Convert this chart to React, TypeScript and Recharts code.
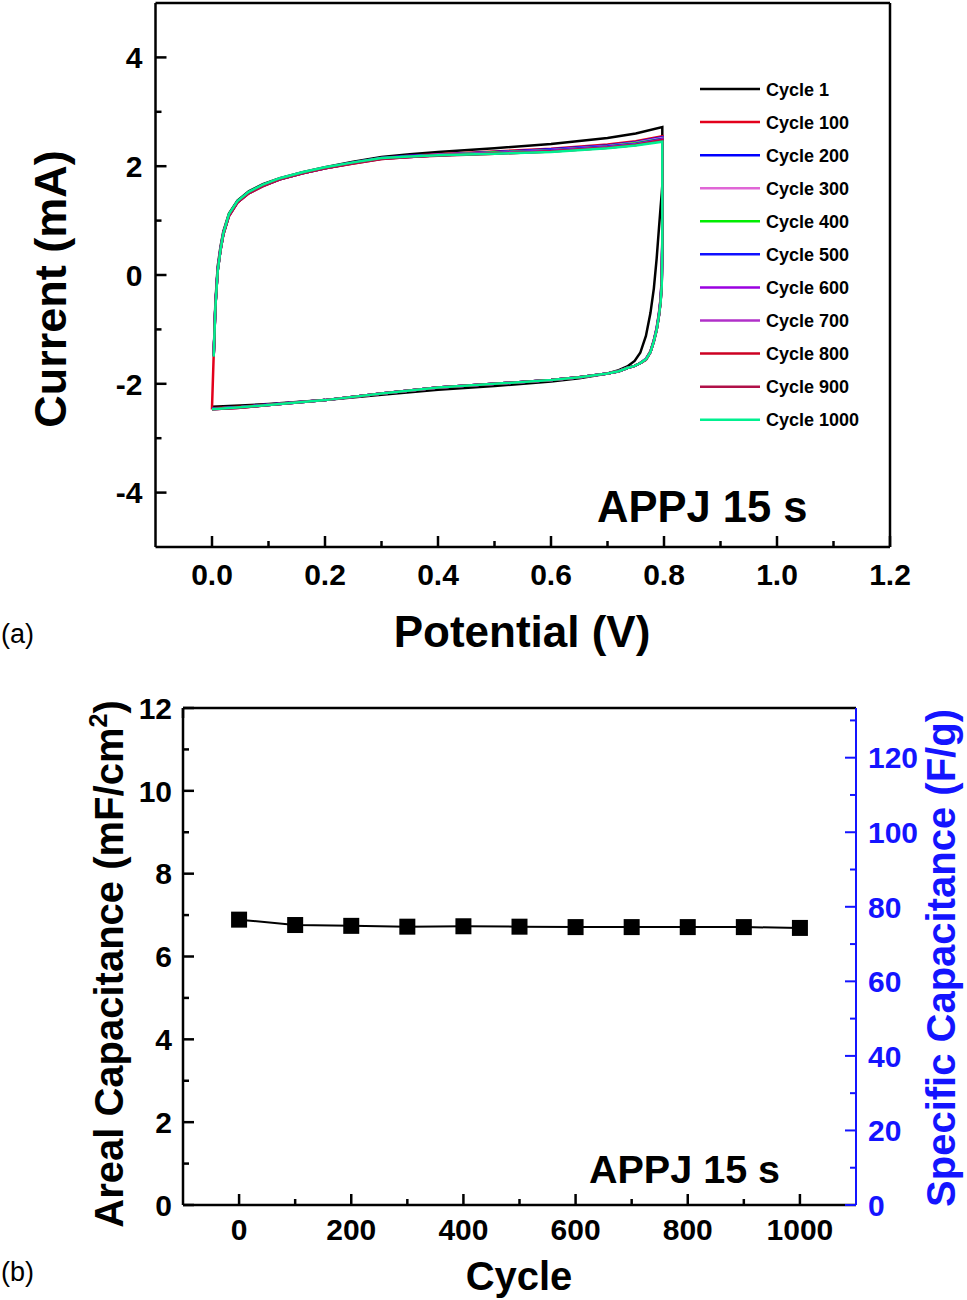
import { LineChart, Line, XAxis, YAxis } from 'recharts'

// ---- (a) cyclic voltammetry, shared potential grids (V) ----
const FWD_V = [0.003, 0.006, 0.01, 0.015, 0.02, 0.03, 0.045, 0.065, 0.09, 0.12, 0.16, 0.2, 0.25, 0.3, 0.35, 0.4, 0.5, 0.6, 0.7, 0.75, 0.797]
const REV_V = [0.797, 0.797, 0.796, 0.794, 0.791, 0.787, 0.782, 0.776, 0.768, 0.758, 0.748, 0.735, 0.72, 0.7, 0.65, 0.6, 0.5, 0.4, 0.3, 0.2, 0.1, 0.05, 0.0]

// current (mA), forward sweep
const C1_FWD = [-1.45, -0.5, 0.15, 0.52, 0.8, 1.13, 1.37, 1.54, 1.67, 1.78, 1.89, 1.98, 2.08, 2.17, 2.22, 2.26, 2.33, 2.41, 2.52, 2.6, 2.72]
const C100_FWD = [-1.47, -0.55, 0.1, 0.48, 0.77, 1.11, 1.35, 1.52, 1.65, 1.77, 1.88, 1.97, 2.07, 2.15, 2.19, 2.22, 2.27, 2.32, 2.4, 2.46, 2.55]
const C200_FWD = [-1.47, -0.56, 0.09, 0.47, 0.76, 1.1, 1.35, 1.52, 1.65, 1.77, 1.88, 1.97, 2.07, 2.15, 2.19, 2.21, 2.26, 2.31, 2.38, 2.44, 2.53]
const C300_FWD = [-1.48, -0.56, 0.09, 0.47, 0.76, 1.1, 1.34, 1.51, 1.65, 1.77, 1.88, 1.97, 2.06, 2.14, 2.18, 2.21, 2.25, 2.3, 2.37, 2.43, 2.52]
const C400_FWD = [-1.48, -0.57, 0.08, 0.46, 0.75, 1.1, 1.34, 1.51, 1.64, 1.76, 1.87, 1.96, 2.06, 2.14, 2.18, 2.2, 2.25, 2.29, 2.36, 2.42, 2.5]
const C500_FWD = [-1.48, -0.57, 0.08, 0.46, 0.75, 1.09, 1.34, 1.51, 1.64, 1.76, 1.87, 1.96, 2.06, 2.14, 2.18, 2.2, 2.24, 2.29, 2.36, 2.41, 2.5]
const C600_FWD = [-1.49, -0.58, 0.08, 0.46, 0.75, 1.09, 1.33, 1.51, 1.64, 1.76, 1.87, 1.96, 2.06, 2.14, 2.17, 2.2, 2.24, 2.28, 2.35, 2.4, 2.49]
const C700_FWD = [-1.49, -0.58, 0.07, 0.45, 0.74, 1.09, 1.33, 1.5, 1.64, 1.76, 1.87, 1.96, 2.06, 2.14, 2.17, 2.2, 2.24, 2.28, 2.35, 2.4, 2.48]
const C800_FWD = [-1.49, -0.58, 0.07, 0.45, 0.74, 1.09, 1.33, 1.5, 1.64, 1.76, 1.87, 1.96, 2.05, 2.13, 2.17, 2.2, 2.23, 2.27, 2.34, 2.39, 2.48]
const C900_FWD = [-1.5, -0.59, 0.07, 0.45, 0.74, 1.08, 1.33, 1.5, 1.63, 1.76, 1.87, 1.96, 2.05, 2.13, 2.17, 2.19, 2.23, 2.27, 2.34, 2.39, 2.47]
const C1000_FWD = [-1.5, -0.6, 0.06, 0.46, 0.76, 1.12, 1.36, 1.53, 1.66, 1.78, 1.89, 1.98, 2.07, 2.15, 2.18, 2.2, 2.23, 2.26, 2.33, 2.38, 2.45]

// current (mA), reverse sweep
const C1_REV = [2.72, 1.65, 1.5, 1.25, 0.85, 0.3, -0.25, -0.7, -1.12, -1.43, -1.58, -1.68, -1.75, -1.81, -1.9, -1.96, -2.04, -2.11, -2.2, -2.3, -2.37, -2.4, -2.42]
const C100_REV = [2.55, 0.7, -0.05, -0.42, -0.7, -0.97, -1.2, -1.4, -1.54, -1.62, -1.67, -1.71, -1.77, -1.81, -1.88, -1.93, -2.0, -2.07, -2.18, -2.3, -2.38, -2.42, -2.45]
const C200_REV = [2.53, 0.65, -0.08, -0.44, -0.72, -0.98, -1.2, -1.41, -1.54, -1.62, -1.67, -1.71, -1.77, -1.81, -1.88, -1.93, -2.0, -2.07, -2.18, -2.3, -2.38, -2.43, -2.46]
const C300_REV = [2.52, 0.62, -0.1, -0.45, -0.73, -0.99, -1.21, -1.41, -1.55, -1.62, -1.67, -1.71, -1.77, -1.81, -1.88, -1.93, -2.0, -2.07, -2.18, -2.3, -2.39, -2.43, -2.46]
const C400_REV = [2.5, 0.6, -0.12, -0.46, -0.74, -1.0, -1.21, -1.41, -1.55, -1.62, -1.67, -1.71, -1.77, -1.81, -1.88, -1.93, -2.0, -2.07, -2.18, -2.3, -2.39, -2.43, -2.46]
const C500_REV = [2.5, 0.58, -0.13, -0.47, -0.74, -1.0, -1.21, -1.42, -1.55, -1.62, -1.67, -1.71, -1.77, -1.81, -1.88, -1.93, -2.0, -2.07, -2.18, -2.3, -2.39, -2.43, -2.46]
const C600_REV = [2.49, 0.56, -0.15, -0.48, -0.75, -1.0, -1.22, -1.42, -1.55, -1.62, -1.67, -1.71, -1.77, -1.81, -1.88, -1.93, -2.0, -2.07, -2.18, -2.3, -2.39, -2.43, -2.47]
const C700_REV = [2.48, 0.55, -0.16, -0.48, -0.75, -1.01, -1.22, -1.42, -1.55, -1.62, -1.67, -1.71, -1.77, -1.81, -1.88, -1.93, -2.0, -2.07, -2.18, -2.3, -2.39, -2.44, -2.47]
const C800_REV = [2.48, 0.54, -0.17, -0.49, -0.75, -1.01, -1.22, -1.42, -1.56, -1.62, -1.67, -1.71, -1.77, -1.81, -1.88, -1.93, -2.0, -2.07, -2.18, -2.3, -2.39, -2.44, -2.47]
const C900_REV = [2.47, 0.52, -0.18, -0.5, -0.75, -1.01, -1.22, -1.42, -1.56, -1.62, -1.67, -1.71, -1.77, -1.81, -1.88, -1.93, -2.0, -2.07, -2.18, -2.3, -2.39, -2.44, -2.47]
const C1000_REV = [2.45, 0.5, -0.2, -0.5, -0.75, -1.01, -1.22, -1.42, -1.55, -1.62, -1.67, -1.71, -1.77, -1.81, -1.88, -1.93, -2.0, -2.07, -2.18, -2.3, -2.39, -2.43, -2.47]

const CYCLE_NAMES = ['Cycle 1', 'Cycle 100', 'Cycle 200', 'Cycle 300', 'Cycle 400', 'Cycle 500', 'Cycle 600', 'Cycle 700', 'Cycle 800', 'Cycle 900', 'Cycle 1000']
const CYCLE_COLORS = ['#000000', '#e3001b', '#0000ff', '#e066d6', '#00ee00', '#1010ff', '#9a00e0', '#b030c8', '#cc0022', '#b01048', '#00f090']
const FWD_SETS = [C1_FWD, C100_FWD, C200_FWD, C300_FWD, C400_FWD, C500_FWD, C600_FWD, C700_FWD, C800_FWD, C900_FWD, C1000_FWD]
const REV_SETS = [C1_REV, C100_REV, C200_REV, C300_REV, C400_REV, C500_REV, C600_REV, C700_REV, C800_REV, C900_REV, C1000_REV]

const CV_X_TICKS = [0, 0.1, 0.2, 0.3, 0.4, 0.5, 0.6, 0.7, 0.8, 0.9, 1.0, 1.1, 1.2]
const CV_Y_TICKS = [-4, -3, -2, -1, 0, 1, 2, 3, 4]

// ---- (b) capacitance retention ----
const CYCLE_NUM = [0, 100, 200, 300, 400, 500, 600, 700, 800, 900, 1000]
const AREAL_CAP = [6.89, 6.76, 6.74, 6.72, 6.73, 6.72, 6.71, 6.71, 6.71, 6.71, 6.69]
const CYC_X_TICKS = [0, 100, 200, 300, 400, 500, 600, 700, 800, 900, 1000]
const AREAL_TICKS = [0, 1, 2, 3, 4, 5, 6, 7, 8, 9, 10, 11, 12]
const SPEC_TICKS = [0, 10, 20, 30, 40, 50, 60, 70, 80, 90, 100, 110, 120, 130]

const FONT = "'Liberation Sans', Arial, Helvetica, sans-serif"
const BLUE = '#1414ff'

type Side = 'left' | 'right' | 'bottom' | 'top'

function makeTick(side: Side, isMajor: (v: number) => boolean, fmt: (v: number) => string | null, color = '#000', gap = 12) {
  return (props: any) => {
    const { x, y, payload } = props
    const v = payload.value as number
    const major = isMajor(v)
    const len = major ? 11 : 6
    const label = major ? fmt(v) : null
    let line
    let text = null
    const common = { fill: color, fontFamily: FONT, fontWeight: 700, fontSize: 30 }
    if (side === 'left') {
      line = <line x1={x} x2={x + len} y1={y} y2={y} stroke={color} strokeWidth={2.5} />
      if (label !== null) text = <text x={x - gap} y={y} dy="0.36em" textAnchor="end" {...common}>{label}</text>
    } else if (side === 'right') {
      line = <line x1={x} x2={x - len} y1={y} y2={y} stroke={color} strokeWidth={2} />
      if (label !== null) text = <text x={x + gap} y={y} dy="0.36em" textAnchor="start" {...common}>{label}</text>
    } else if (side === 'bottom') {
      line = <line x1={x} x2={x} y1={y} y2={y - len} stroke={color} strokeWidth={2.5} />
      if (label !== null) text = <text x={x} y={y + gap} textAnchor="middle" {...common}>{label}</text>
    } else {
      line = <line x1={x} x2={x} y1={y} y2={y + 10} stroke={color} strokeWidth={2.5} />
    }
    return (
      <g>
        {line}
        {text}
      </g>
    )
  }
}

const axisLine = { stroke: '#000', strokeWidth: 2.5 }

function CvChart() {
  const series = CYCLE_NAMES.map((name, k) => {
    const pts = [
      ...FWD_V.map((v, j) => ({ v, i: FWD_SETS[k][j] })),
      ...REV_V.map((v, j) => ({ v, i: REV_SETS[k][j] })),
    ]
    // the Cycle 100 trace closes the loop at 0 V
    if (k === 1) pts.push({ v: FWD_V[0], i: FWD_SETS[k][0] })
    return { name, color: CYCLE_COLORS[k], pts }
  })
  return (
    <LineChart width={967} height={600} margin={{ top: 0, right: 0, bottom: 0, left: 0 }}>
      <XAxis
        dataKey="v"
        type="number"
        domain={[-0.1, 1.2]}
        ticks={CV_X_TICKS}
        interval={0}
        height={53}
        axisLine={axisLine}
        tickLine={false}
        tickSize={0}
        tickMargin={0}
        tick={makeTick('bottom', (v) => Math.round(v * 10) % 2 === 0, (v) => v.toFixed(1), '#000', 38)}
      />
      <XAxis xAxisId="top" orientation="top" type="number" domain={[-0.1, 1.2]} height={3} axisLine={axisLine} tick={false} tickLine={false} />
      <YAxis
        type="number"
        domain={[-5, 5]}
        ticks={CV_Y_TICKS}
        interval={0}
        width={155.5}
        axisLine={axisLine}
        tickLine={false}
        tickSize={0}
        tickMargin={0}
        tick={makeTick('left', (v) => v % 2 === 0, (v) => String(v), '#000', 13)}
      />
      <YAxis yAxisId="r" orientation="right" type="number" domain={[-5, 5]} width={77} axisLine={axisLine} tick={false} tickLine={false} />
      {series.map((s) => (
        <Line
          key={s.name}
          name={s.name}
          data={s.pts}
          dataKey="i"
          type="linear"
          stroke={s.color}
          strokeWidth={2.5}
          dot={false}
          isAnimationActive={false}
        />
      ))}
    </LineChart>
  )
}

function CapChart() {
  const data = CYCLE_NUM.map((c, j) => ({ c, a: AREAL_CAP[j] }))
  return (
    <LineChart width={967} height={600} data={data} margin={{ top: 0, right: 0, bottom: 0, left: 0 }}>
      <XAxis
        dataKey="c"
        type="number"
        domain={[-100, 1100]}
        ticks={CYC_X_TICKS}
        interval={0}
        height={55}
        axisLine={axisLine}
        tickLine={false}
        tickSize={0}
        tickMargin={0}
        tick={makeTick('bottom', (v) => v % 200 === 0, (v) => String(v), '#000', 35)}
      />
      <XAxis
        xAxisId="top"
        orientation="top"
        type="number"
        domain={[-100, 1100]}
        ticks={CYC_X_TICKS}
        interval={0}
        height={48}
        axisLine={axisLine}
        tickLine={false}
        tickSize={0}
        tickMargin={0}
        tick={makeTick('top', () => false, () => null)}
      />
      <YAxis
        type="number"
        domain={[0, 12]}
        ticks={AREAL_TICKS}
        interval={0}
        width={183}
        axisLine={axisLine}
        tickLine={false}
        tickSize={0}
        tickMargin={0}
        tick={makeTick('left', (v) => v % 2 === 0, (v) => String(v), '#000', 11)}
      />
      <YAxis
        yAxisId="spec"
        orientation="right"
        type="number"
        domain={[0, 133.33]}
        allowDataOverflow
        ticks={SPEC_TICKS}
        interval={0}
        width={111}
        axisLine={{ stroke: BLUE, strokeWidth: 2 }}
        tickLine={false}
        tickSize={0}
        tickMargin={0}
        tick={makeTick('right', (v) => v % 20 === 0, (v) => String(v), BLUE, 12)}
      />
      <Line
        dataKey="a"
        type="linear"
        stroke="#000"
        strokeWidth={2}
        isAnimationActive={false}
        dot={(p: any) => <rect key={`sq${p.index}`} x={p.cx - 8} y={p.cy - 8} width={16} height={16} fill="#000" />}
      />
    </LineChart>
  )
}

function Overlay() {
  const t = { fontFamily: FONT, fontWeight: 700, fill: '#000' }
  return (
    <svg width={967} height={1300} style={{ position: 'absolute', left: 0, top: 0, pointerEvents: 'none' }}>
      {/* legend (a) */}
      {CYCLE_NAMES.map((name, k) => {
        const y = 89 + k * 33.07
        return (
          <g key={name}>
            <line x1={700} x2={760} y1={y} y2={y} stroke={CYCLE_COLORS[k]} strokeWidth={2.5} />
            <text x={766} y={y + 6.5} fontSize={18} {...t}>{name}</text>
          </g>
        )
      })}
      <text x={597} y={522} fontSize={43.5} {...t}>APPJ 15 s</text>
      <text x={522} y={647} fontSize={44} textAnchor="middle" {...t}>Potential (V)</text>
      <text transform="translate(66,289) rotate(-90)" fontSize={45} textAnchor="middle" {...t}>Current (mA)</text>
      <text x={1} y={643} fontSize={27} fontFamily={FONT} fill="#000">(a)</text>

      {/* panel (b) */}
      <text x={589} y={1183} fontSize={39.5} {...t}>APPJ 15 s</text>
      <text x={519} y={1290} fontSize={40} textAnchor="middle" {...t}>Cycle</text>
      <text transform="translate(123,964) rotate(-90)" fontSize={40} textAnchor="middle" {...t}>
        Areal Capacitance (mF/cm
        <tspan dy={-16} fontSize={25}>2</tspan>
        <tspan dy={16}>)</tspan>
      </text>
      <text transform="translate(955,958) rotate(-90)" fontSize={40} textAnchor="middle" {...t} fill={BLUE}>
        Specific Capacitance (F/g)
      </text>
      <text x={1} y={1281} fontSize={27} fontFamily={FONT} fill="#000">(b)</text>
    </svg>
  )
}

export default function App() {
  return (
    <div style={{ position: 'absolute', left: 0, top: 0, width: 967, height: 1300, background: '#fff' }}>
      <div style={{ position: 'absolute', left: 0, top: 0 }}>
        <CvChart />
      </div>
      <div style={{ position: 'absolute', left: 0, top: 660 }}>
        <CapChart />
      </div>
      <Overlay />
    </div>
  )
}
